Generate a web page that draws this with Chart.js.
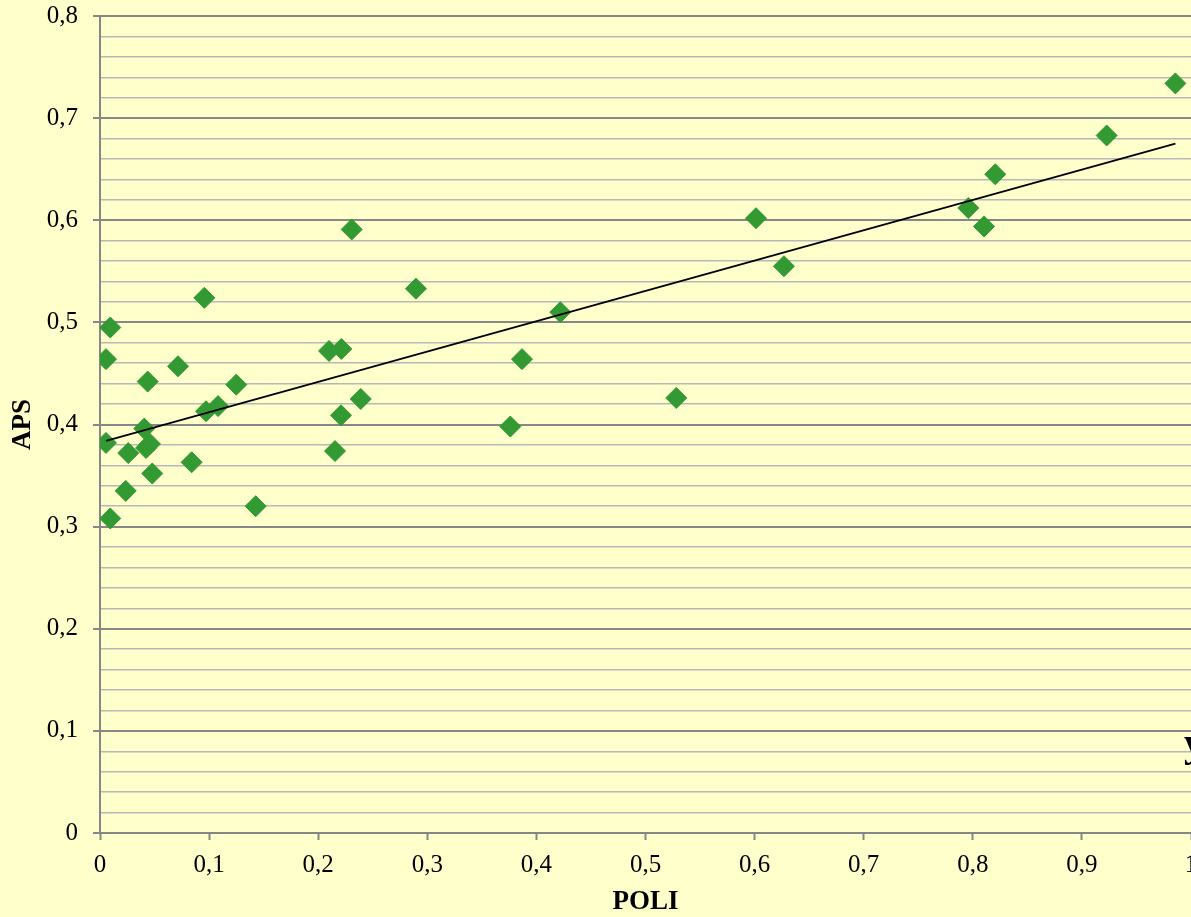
<!DOCTYPE html>
<html>
<head>
<meta charset="utf-8">
<script src="https://cdn.jsdelivr.net/npm/chart.js@4/dist/chart.umd.min.js"></script>
<style>
  html, body { margin: 0; padding: 0; background: #FFFFCC; overflow: hidden; width: 1191px; height: 917px; }
  #wrap { width: 1300px; height: 917px; }
</style>
</head>
<body>
<div id="wrap"><canvas id="c" width="1300" height="917"></canvas></div>
<script>
// POLI (x) values
const poli = [0.0055, 0.0094, 0.0055, 0.0094, 0.0236, 0.0259, 0.0406, 0.0437, 0.0422, 0.0458,
              0.0479, 0.0715, 0.0840, 0.0956, 0.0972, 0.1082, 0.1249, 0.1427, 0.2099, 0.2212,
              0.2154, 0.2209, 0.2307, 0.2390, 0.2896, 0.3761, 0.3868, 0.4219, 0.5282, 0.6013,
              0.6269, 0.7959, 0.8103, 0.8206, 0.9227, 0.9857];
// APS (y) values
const aps  = [0.464, 0.495, 0.382, 0.308, 0.335, 0.372, 0.396, 0.442, 0.377, 0.381,
              0.352, 0.457, 0.363, 0.524, 0.413, 0.418, 0.439, 0.320, 0.472, 0.474,
              0.374, 0.409, 0.591, 0.425, 0.533, 0.398, 0.464, 0.510, 0.426, 0.602,
              0.555, 0.612, 0.594, 0.645, 0.683, 0.734];
// Linear trendline end points
const trendX = [0.0055, 0.9857];
const trendY = [0.384, 0.675];
const equationText = "y = 0,2979x + 0,3826";

const xTicksMax = 1, yTicksMax = 0.8;

const scatterData = poli.map((x, i) => ({ x: x, y: aps[i] }));
const trendData = trendX.map((x, i) => ({ x: x, y: trendY[i] }));

function isMajor(v) { return Math.abs(v * 10 - Math.round(v * 10)) < 1e-6; }
function fmt(v) { return v === 0 ? '0' : (Math.round(v * 10) / 10).toString().replace('.', ','); }

const bgPlugin = {
  id: 'bg',
  beforeDraw(chart) {
    const ctx = chart.ctx;
    ctx.save();
    ctx.fillStyle = '#FFFFCC';
    ctx.fillRect(0, 0, chart.width, chart.height);
    ctx.restore();
  },
  afterDraw(chart) {
    const ctx = chart.ctx;
    ctx.save();
    ctx.fillStyle = '#000000';
    ctx.font = 'bold 40px "Liberation Serif", "Times New Roman", serif';
    ctx.textAlign = 'left';
    ctx.textBaseline = 'alphabetic';
    ctx.fillText(equationText, 1184, 756);
    ctx.restore();
  }
};

new Chart(document.getElementById('c'), {
  type: 'scatter',
  data: {
    datasets: [
      {
        label: 'APS',
        data: scatterData,
        order: 1,
        pointStyle: 'rectRot',
        pointRadius: 10.5,
        pointHoverRadius: 10.5,
        pointBackgroundColor: '#339933',
        pointBorderColor: '#339933',
        pointBorderWidth: 1
      },
      {
        label: 'Trend',
        type: 'line',
        data: trendData,
        order: 0,
        showLine: true,
        borderColor: '#000000',
        borderWidth: 1.8,
        pointRadius: 0,
        fill: false
      }
    ]
  },
  options: {
    responsive: false,
    animation: false,
    devicePixelRatio: 1,
    layout: { padding: { left: 0, top: 0, right: 109, bottom: 0 } },
    plugins: { legend: { display: false }, tooltip: { enabled: false } },
    scales: {
      x: {
        type: 'linear',
        min: 0, max: xTicksMax,
        afterFit(scale) { scale.height = 84; },
        ticks: {
          stepSize: 0.1,
          color: '#000000',
          font: { family: '"Liberation Serif", "Times New Roman", serif', size: 25 },
          padding: 10,
          maxRotation: 0,
          autoSkip: false,
          callback: (v) => fmt(v)
        },
        grid: {
          drawOnChartArea: false,
          drawTicks: true,
          tickLength: 7,
          tickColor: '#878787',
          tickWidth: 2
        },
        border: { color: '#878787', width: 2 },
        title: {
          display: true,
          text: 'POLI',
          color: '#000000',
          font: { family: '"Liberation Serif", "Times New Roman", serif', size: 27, weight: 'bold', lineHeight: 1.1 },
          padding: { top: 0, bottom: 0 }
        }
      },
      y: {
        type: 'linear',
        min: 0, max: yTicksMax,
        afterFit(scale) { scale.width = 100; scale.paddingTop = 16; scale.paddingBottom = 0; },
        ticks: {
          stepSize: 0.02,
          color: '#000000',
          font: { family: '"Liberation Serif", "Times New Roman", serif', size: 25 },
          padding: 15,
          autoSkip: false,
          callback: (v) => isMajor(v) ? fmt(v) : ''
        },
        grid: {
          drawTicks: true,
          tickLength: 7,
          color: (c) => isMajor(c.tick.value) ? '#878787' : '#b8b8b8',
          lineWidth: (c) => isMajor(c.tick.value) ? 2 : 1.5,
          tickColor: (c) => isMajor(c.tick.value) ? '#878787' : 'rgba(0,0,0,0)',
          tickWidth: 2
        },
        border: { color: '#878787', width: 2 },
        title: {
          display: true,
          text: 'APS',
          color: '#000000',
          font: { family: '"Liberation Serif", "Times New Roman", serif', size: 27, weight: 'bold', lineHeight: 1.1 },
          padding: { top: 8, bottom: 0 }
        }
      }
    }
  },
  plugins: [bgPlugin]
});
</script>
</body>
</html>
